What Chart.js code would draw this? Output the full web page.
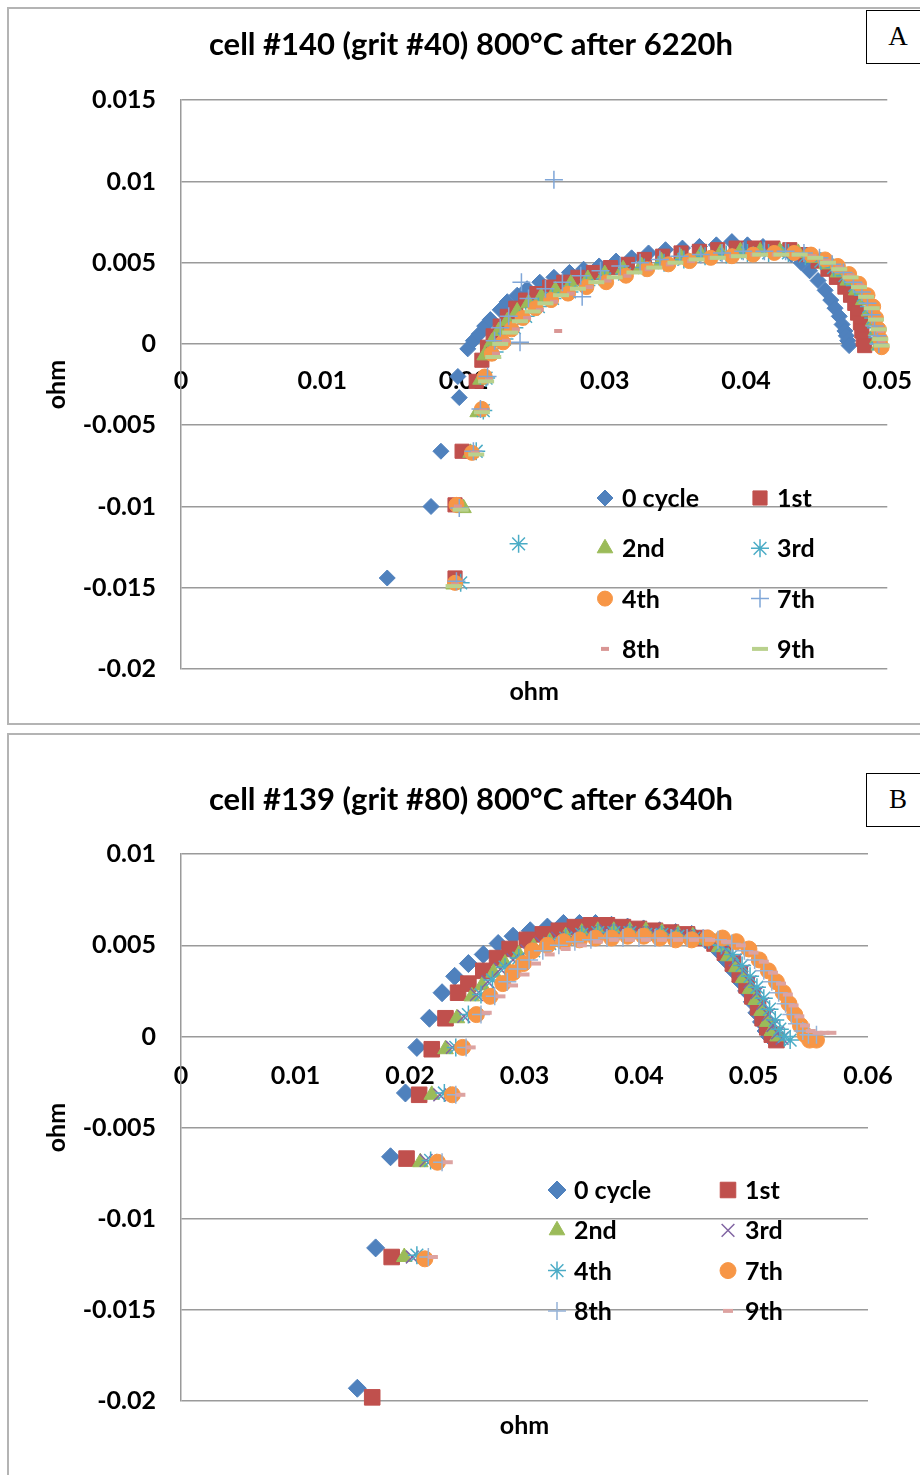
<!DOCTYPE html>
<html>
<head>
<meta charset="utf-8">
<script src="https://cdn.jsdelivr.net/npm/chart.js@4.4.1/dist/chart.umd.min.js"></script>
<style>
body { margin: 0; width: 920px; height: 1475px; overflow: hidden; background: #fff; position: relative; }
.frame { position: absolute; left: 7px; width: 960px; border: 2px solid #b4b4b4; box-sizing: border-box; }
.wrap { position: absolute; left: 8px; width: 926px; }
.tag { position: absolute; left: 866px; width: 80px; height: 54px; border: 1.5px solid #000; background: #fff; box-sizing: border-box; }
.tag span { position: absolute; left: 11px; width: 40px; top: 0; font: 27px "Liberation Serif", serif; line-height: 51px; text-align: center; color: #000; }
</style>
</head>
<body>
<div class="frame" style="top:7px;height:718px"></div>
<div class="frame" style="top:733px;height:800px"></div>
<div class="wrap" style="top:8px;height:715px"><canvas id="chartA"></canvas></div>
<div class="wrap" style="top:734px;height:741px"><canvas id="chartB"></canvas></div>
<div class="tag" style="top:10px"><span>A</span></div>
<div class="tag" style="top:773px"><span>B</span></div>
<script>
const cycleNames = ['0 cycle', '1st', '2nd', '3rd', '4th', '7th', '8th', '9th'];

// chart A: cell #140 (grit #40), points as [Z', Z''] in ohm
const a0 = [[0.0146,-0.0144],[0.0177,-0.0100],[0.0184,-0.0066],[0.0197,-0.0033],[0.0196,-0.0020],[0.0203,-0.0003],[0.0207,0.0002],[0.0211,0.0006],[0.0215,0.0011],[0.0219,0.0015],[0.0226,0.0021],[0.0231,0.0026],[0.0238,0.0030],[0.0245,0.0034],[0.0254,0.0038],[0.0264,0.0041],[0.0275,0.0044],[0.0285,0.0046],[0.0296,0.0048],[0.0308,0.0051],[0.0319,0.0053],[0.0331,0.0056],[0.0343,0.0058],[0.0355,0.0059],[0.0367,0.0060],[0.0379,0.0061],[0.0390,0.0063],[0.0401,0.0061],[0.0412,0.0060],[0.0423,0.0058],[0.0432,0.0055],[0.0439,0.0050],[0.0445,0.0045],[0.0451,0.0039],[0.0456,0.0033],[0.0460,0.0027],[0.0463,0.0022],[0.0466,0.0017],[0.0468,0.0012],[0.0470,0.0008],[0.0471,0.0005],[0.0472,0.0002],[0.0473,-0.0001]];
const a1 = [[0.0194,-0.0144],[0.0194,-0.0099],[0.0199,-0.0066],[0.0209,-0.0023],[0.0213,-0.0010],[0.0217,-0.0002],[0.0221,0.0005],[0.0226,0.0011],[0.0231,0.0017],[0.0237,0.0022],[0.0244,0.0027],[0.0252,0.0031],[0.0261,0.0035],[0.0271,0.0038],[0.0281,0.0041],[0.0292,0.0044],[0.0304,0.0047],[0.0316,0.0049],[0.0328,0.0052],[0.0341,0.0054],[0.0354,0.0056],[0.0367,0.0057],[0.0380,0.0058],[0.0393,0.0059],[0.0406,0.0059],[0.0419,0.0059],[0.0431,0.0058],[0.0442,0.0055],[0.0451,0.0051],[0.0458,0.0046],[0.0464,0.0041],[0.0470,0.0035],[0.0474,0.0030],[0.0477,0.0025],[0.0479,0.0019],[0.0481,0.0013],[0.0482,0.0008],[0.0483,0.0003],[0.0484,-0.0001]];
const a2 = [[0.0193,-0.0148],[0.0200,-0.0101],[0.0205,-0.0067],[0.0210,-0.0042],[0.0212,-0.0022],[0.0215,-0.0007],[0.0220,0.0001],[0.0225,0.0008],[0.0231,0.0014],[0.0238,0.0020],[0.0246,0.0025],[0.0255,0.0029],[0.0265,0.0033],[0.0276,0.0037],[0.0288,0.0040],[0.0300,0.0043],[0.0313,0.0046],[0.0326,0.0048],[0.0340,0.0051],[0.0354,0.0053],[0.0368,0.0055],[0.0382,0.0056],[0.0396,0.0057],[0.0410,0.0057],[0.0424,0.0057],[0.0437,0.0056],[0.0448,0.0053],[0.0457,0.0049],[0.0465,0.0044],[0.0472,0.0039],[0.0478,0.0033],[0.0483,0.0027],[0.0487,0.0020],[0.0490,0.0014],[0.0492,0.0008],[0.0493,0.0003],[0.0494,-0.0001]];
const a3 = [[0.0198,-0.0147],[0.0239,-0.0123],[0.0209,-0.0066],[0.0214,-0.0041],[0.0216,-0.0021],[0.0222,-0.0005],[0.0229,0.0003],[0.0236,0.0010],[0.0244,0.0017],[0.0253,0.0023],[0.0263,0.0028],[0.0275,0.0032],[0.0287,0.0036],[0.0300,0.0040],[0.0314,0.0043],[0.0328,0.0047],[0.0342,0.0050],[0.0356,0.0052],[0.0371,0.0054],[0.0386,0.0055],[0.0401,0.0056],[0.0416,0.0056],[0.0430,0.0056],[0.0442,0.0054],[0.0453,0.0051],[0.0462,0.0047],[0.0470,0.0042],[0.0477,0.0036],[0.0483,0.0030],[0.0487,0.0023],[0.0490,0.0016],[0.0492,0.0010],[0.0493,0.0004],[0.0494,0.0000]];
const a4 = [[0.0194,-0.0147],[0.0195,-0.0099],[0.0206,-0.0067],[0.0213,-0.0040],[0.0215,-0.0020],[0.0220,-0.0006],[0.0228,0.0001],[0.0234,0.0009],[0.0242,0.0016],[0.0251,0.0022],[0.0262,0.0027],[0.0274,0.0031],[0.0287,0.0035],[0.0301,0.0038],[0.0315,0.0042],[0.0330,0.0046],[0.0345,0.0049],[0.0360,0.0051],[0.0375,0.0053],[0.0390,0.0054],[0.0405,0.0055],[0.0420,0.0056],[0.0434,0.0056],[0.0446,0.0055],[0.0456,0.0052],[0.0465,0.0048],[0.0473,0.0043],[0.0480,0.0037],[0.0486,0.0030],[0.0490,0.0023],[0.0492,0.0016],[0.0494,0.0009],[0.0495,0.0003],[0.0496,-0.0002]];
const a7 = [[0.0195,-0.0146],[0.0197,-0.0101],[0.0207,-0.0066],[0.0212,-0.0040],[0.0217,-0.0020],[0.0240,0.0001],[0.0241,0.0038],[0.0264,0.0101],[0.0284,0.0029],[0.0222,0.0002],[0.0226,0.0010],[0.0232,0.0017],[0.0246,0.0028],[0.0258,0.0034],[0.0270,0.0038],[0.0283,0.0042],[0.0297,0.0045],[0.0311,0.0048],[0.0325,0.0050],[0.0339,0.0052],[0.0353,0.0054],[0.0368,0.0055],[0.0383,0.0056],[0.0398,0.0057],[0.0413,0.0057],[0.0428,0.0057],[0.0441,0.0056],[0.0452,0.0053],[0.0461,0.0049],[0.0469,0.0044],[0.0476,0.0038],[0.0482,0.0032],[0.0486,0.0025],[0.0489,0.0018],[0.0491,0.0011],[0.0493,0.0005],[0.0494,0.0000]];
const a8 = [[0.0194,-0.0148],[0.0196,-0.0100],[0.0208,-0.0067],[0.0214,-0.0041],[0.0218,-0.0022],[0.0267,0.0008],[0.0223,-0.0006],[0.0230,0.0002],[0.0237,0.0009],[0.0245,0.0016],[0.0254,0.0021],[0.0264,0.0026],[0.0276,0.0031],[0.0289,0.0035],[0.0302,0.0039],[0.0316,0.0042],[0.0331,0.0046],[0.0346,0.0049],[0.0361,0.0051],[0.0376,0.0053],[0.0391,0.0054],[0.0406,0.0055],[0.0421,0.0055],[0.0435,0.0055],[0.0447,0.0054],[0.0457,0.0051],[0.0466,0.0047],[0.0474,0.0042],[0.0481,0.0036],[0.0486,0.0029],[0.0490,0.0022],[0.0493,0.0015],[0.0495,0.0008],[0.0496,0.0002]];
const a9 = [[0.0193,-0.0149],[0.0198,-0.0102],[0.0209,-0.0068],[0.0213,-0.0042],[0.0216,-0.0023],[0.0221,-0.0008],[0.0226,0.0000],[0.0233,0.0007],[0.0240,0.0014],[0.0249,0.0020],[0.0258,0.0025],[0.0269,0.0030],[0.0281,0.0034],[0.0294,0.0038],[0.0307,0.0041],[0.0321,0.0044],[0.0335,0.0047],[0.0350,0.0050],[0.0365,0.0052],[0.0380,0.0053],[0.0395,0.0054],[0.0410,0.0055],[0.0425,0.0055],[0.0438,0.0055],[0.0449,0.0053],[0.0458,0.0050],[0.0466,0.0046],[0.0474,0.0041],[0.0480,0.0035],[0.0485,0.0029],[0.0489,0.0022],[0.0492,0.0015],[0.0494,0.0009],[0.0495,0.0003],[0.0496,-0.0001]];

// chart B: cell #139 (grit #80)
const b0 = [[0.0154,-0.0193],[0.0170,-0.0116],[0.0183,-0.0066],[0.0196,-0.0031],[0.0206,-0.0006],[0.0217,0.0010],[0.0228,0.0024],[0.0239,0.0033],[0.0251,0.0040],[0.0264,0.0045],[0.0277,0.0051],[0.0290,0.0055],[0.0305,0.0058],[0.0320,0.0060],[0.0334,0.0062],[0.0348,0.0062],[0.0362,0.0062],[0.0376,0.0061],[0.0390,0.0060],[0.0404,0.0059],[0.0418,0.0058],[0.0432,0.0057],[0.0446,0.0056],[0.0458,0.0053],[0.0468,0.0048],[0.0476,0.0042],[0.0483,0.0036],[0.0489,0.0030],[0.0494,0.0025],[0.0499,0.0019],[0.0503,0.0013],[0.0507,0.0008],[0.0511,0.0003],[0.0514,0.0000]];
const b1 = [[0.0167,-0.0198],[0.0184,-0.0121],[0.0197,-0.0067],[0.0208,-0.0032],[0.0219,-0.0007],[0.0231,0.0010],[0.0242,0.0024],[0.0251,0.0029],[0.0264,0.0036],[0.0276,0.0043],[0.0287,0.0048],[0.0302,0.0053],[0.0316,0.0056],[0.0330,0.0058],[0.0344,0.0060],[0.0358,0.0061],[0.0372,0.0061],[0.0386,0.0060],[0.0400,0.0059],[0.0414,0.0058],[0.0428,0.0057],[0.0442,0.0056],[0.0455,0.0054],[0.0466,0.0051],[0.0475,0.0046],[0.0482,0.0040],[0.0488,0.0034],[0.0494,0.0028],[0.0499,0.0022],[0.0504,0.0016],[0.0508,0.0010],[0.0512,0.0005],[0.0516,0.0001],[0.0520,-0.0002]];
const b2 = [[0.0195,-0.0121],[0.0209,-0.0069],[0.0219,-0.0032],[0.0231,-0.0007],[0.0241,0.0010],[0.0254,0.0022],[0.0263,0.0028],[0.0273,0.0035],[0.0283,0.0040],[0.0295,0.0045],[0.0308,0.0049],[0.0322,0.0052],[0.0336,0.0055],[0.0350,0.0057],[0.0364,0.0058],[0.0378,0.0058],[0.0392,0.0058],[0.0406,0.0058],[0.0420,0.0057],[0.0434,0.0056],[0.0447,0.0055],[0.0459,0.0053],[0.0470,0.0049],[0.0478,0.0044],[0.0485,0.0038],[0.0491,0.0032],[0.0497,0.0026],[0.0502,0.0020],[0.0507,0.0014],[0.0512,0.0008],[0.0516,0.0003],[0.0521,0.0000]];
const b3 = [[0.0202,-0.0121],[0.0214,-0.0068],[0.0226,-0.0032],[0.0237,-0.0006],[0.0247,0.0011],[0.0258,0.0023],[0.0268,0.0030],[0.0279,0.0037],[0.0290,0.0042],[0.0302,0.0047],[0.0315,0.0051],[0.0329,0.0054],[0.0343,0.0056],[0.0357,0.0057],[0.0371,0.0058],[0.0385,0.0058],[0.0399,0.0057],[0.0413,0.0057],[0.0427,0.0056],[0.0441,0.0055],[0.0454,0.0054],[0.0466,0.0052],[0.0476,0.0048],[0.0484,0.0042],[0.0491,0.0036],[0.0497,0.0030],[0.0503,0.0024],[0.0508,0.0018],[0.0513,0.0012],[0.0517,0.0006],[0.0521,0.0002],[0.0525,-0.0001]];
const b4 = [[0.0206,-0.0120],[0.0218,-0.0068],[0.0230,-0.0031],[0.0240,-0.0006],[0.0251,0.0012],[0.0262,0.0023],[0.0272,0.0031],[0.0283,0.0038],[0.0295,0.0043],[0.0308,0.0047],[0.0322,0.0051],[0.0336,0.0054],[0.0350,0.0056],[0.0364,0.0057],[0.0378,0.0057],[0.0392,0.0057],[0.0406,0.0056],[0.0420,0.0056],[0.0434,0.0055],[0.0448,0.0054],[0.0461,0.0053],[0.0472,0.0050],[0.0482,0.0045],[0.0490,0.0039],[0.0497,0.0033],[0.0503,0.0027],[0.0509,0.0021],[0.0514,0.0015],[0.0519,0.0009],[0.0523,0.0004],[0.0527,0.0000],[0.0532,-0.0002]];
const b7 = [[0.0213,-0.0122],[0.0224,-0.0069],[0.0237,-0.0032],[0.0246,-0.0006],[0.0258,0.0012],[0.0270,0.0022],[0.0281,0.0029],[0.0290,0.0035],[0.0299,0.0040],[0.0307,0.0047],[0.0320,0.0050],[0.0334,0.0052],[0.0348,0.0053],[0.0362,0.0054],[0.0376,0.0054],[0.0390,0.0055],[0.0404,0.0055],[0.0418,0.0054],[0.0432,0.0053],[0.0446,0.0053],[0.0460,0.0054],[0.0473,0.0054],[0.0485,0.0052],[0.0496,0.0048],[0.0505,0.0042],[0.0513,0.0036],[0.0520,0.0030],[0.0526,0.0024],[0.0531,0.0018],[0.0536,0.0012],[0.0541,0.0006],[0.0545,0.0001],[0.0549,-0.0002],[0.0555,-0.0002]];
const b8 = [[0.0216,-0.0121],[0.0228,-0.0069],[0.0240,-0.0032],[0.0249,-0.0006],[0.0262,0.0012],[0.0274,0.0022],[0.0285,0.0030],[0.0294,0.0037],[0.0304,0.0042],[0.0316,0.0047],[0.0330,0.0050],[0.0344,0.0052],[0.0358,0.0053],[0.0372,0.0054],[0.0386,0.0054],[0.0400,0.0054],[0.0414,0.0054],[0.0428,0.0054],[0.0442,0.0054],[0.0456,0.0054],[0.0469,0.0053],[0.0481,0.0051],[0.0492,0.0047],[0.0501,0.0042],[0.0509,0.0036],[0.0516,0.0030],[0.0522,0.0024],[0.0528,0.0018],[0.0533,0.0012],[0.0538,0.0007],[0.0543,0.0003],[0.0548,0.0001],[0.0555,0.0001]];
const b9 = [[0.0220,-0.0121],[0.0233,-0.0069],[0.0244,-0.0032],[0.0253,-0.0006],[0.0267,0.0013],[0.0279,0.0022],[0.0290,0.0028],[0.0300,0.0034],[0.0310,0.0040],[0.0322,0.0045],[0.0336,0.0048],[0.0350,0.0050],[0.0364,0.0052],[0.0378,0.0053],[0.0392,0.0053],[0.0406,0.0053],[0.0420,0.0053],[0.0434,0.0053],[0.0448,0.0053],[0.0462,0.0053],[0.0476,0.0052],[0.0489,0.0050],[0.0500,0.0046],[0.0509,0.0041],[0.0517,0.0035],[0.0524,0.0029],[0.0530,0.0023],[0.0535,0.0017],[0.0540,0.0011],[0.0545,0.0006],[0.0550,0.0003],[0.0556,0.0002],[0.0562,0.0002],[0.0568,0.0002]];

const xTicksA = [0, 0.01, 0.02, 0.03, 0.04, 0.05];
const yTicksA = [-0.02, -0.015, -0.01, -0.005, 0, 0.005, 0.01, 0.015];
const xTicksB = [0, 0.01, 0.02, 0.03, 0.04, 0.05, 0.06];
const yTicksB = [-0.02, -0.015, -0.01, -0.005, 0, 0.005, 0.01];

// marker look for each series, in legend order
const markersA = [
  {ps: 'rectRot', r: 8, c: '#4F81BD', bw: 1},
  {ps: 'rect', r: 10, c: '#C0504D', bw: 1},
  {ps: 'triangle', r: 9, c: '#9BBB59', bw: 1},
  {ps: 'star', r: 9, c: '#4BACC6', bw: 1.5},
  {ps: 'circle', r: 7.5, c: '#F79646', bw: 1},
  {ps: 'cross', r: 9, c: '#7FA6D8', bw: 1.5},
  {ps: 'line', r: 4, c: '#D99694', bw: 4},
  {ps: 'line', r: 8, c: '#B9D18D', bw: 4}
];
const markersB = [
  {ps: 'rectRot', r: 9, c: '#4F81BD', bw: 1},
  {ps: 'rect', r: 11, c: '#C0504D', bw: 1},
  {ps: 'triangle', r: 9, c: '#9BBB59', bw: 1},
  {ps: 'crossRot', r: 9, c: '#8064A2', bw: 1.5},
  {ps: 'star', r: 9, c: '#4BACC6', bw: 1.5},
  {ps: 'circle', r: 8, c: '#F79646', bw: 1},
  {ps: 'cross', r: 9, c: '#95B3D7', bw: 1.5},
  {ps: 'line', r: 5, c: '#DDA3A1', bw: 4}
];

const fontFamily = 'Lato, "Open Sans", sans-serif';

const gridLegend = {
  id: 'gridLegend',
  afterDatasetsDraw(chart, args, opts) {
    const ctx = chart.ctx;
    ctx.save();
    ctx.font = 'bold 25px ' + fontFamily;
    ctx.textBaseline = 'middle';
    chart.data.datasets.forEach((ds, i) => {
      const mx = opts.x + (i % 2) * opts.colW;
      const my = opts.y + Math.floor(i / 2) * opts.rowH;
      ctx.fillStyle = ds.backgroundColor;
      ctx.strokeStyle = ds.borderColor;
      ctx.lineWidth = ds.borderWidth;
      Chart.helpers.drawPoint(ctx, {pointStyle: ds.pointStyle, radius: ds.pointRadius, rotation: 0, borderWidth: ds.borderWidth}, mx, my);
      ctx.fillStyle = '#000';
      ctx.fillText(ds.label, mx + opts.gap, my + 1);
    });
    ctx.restore();
  }
};

function makeSets(series, markers) {
  return series.map((pts, i) => ({
    label: cycleNames[i],
    data: pts.map(p => ({x: p[0], y: p[1]})),
    pointStyle: markers[i].ps,
    pointRadius: markers[i].r,
    pointHoverRadius: markers[i].r,
    backgroundColor: markers[i].c,
    borderColor: markers[i].c,
    borderWidth: markers[i].bw,
    showLine: false,
    clip: false,
    order: series.length - i
  }));
}

const tickLabel = v => String(+Number(v).toFixed(4));

function makeChart(id, o) {
  return new Chart(document.getElementById(id), {
    type: 'scatter',
    data: {datasets: makeSets(o.series, o.markers)},
    plugins: [gridLegend],
    options: {
      responsive: true,
      maintainAspectRatio: false,
      animation: false,
      layout: {padding: 0},
      plugins: {
        legend: {display: false},
        tooltip: {enabled: false},
        title: {
          display: true,
          text: o.title,
          color: '#000',
          font: {family: fontFamily, size: 31, weight: 'bold'},
          padding: o.titlePad
        },
        gridLegend: o.legend
      },
      scales: {
        x: {
          type: 'linear',
          position: {y: 0},
          min: 0,
          max: o.xTicks[o.xTicks.length - 1],
          z: 1,
          afterBuildTicks: s => { s.ticks = o.xTicks.map(v => ({value: v})); },
          grid: {display: false, drawTicks: false},
          border: {display: false},
          ticks: {color: '#000', font: {family: fontFamily, size: 25, weight: 'bold'}, padding: o.xTickPad, maxRotation: 0, autoSkip: false, callback: tickLabel}
        },
        x2: {
          type: 'linear',
          axis: 'x',
          position: 'bottom',
          min: 0,
          max: o.xTicks[o.xTicks.length - 1],
          grid: {display: false, drawTicks: false},
          border: {display: false},
          ticks: {display: false},
          title: {display: true, text: 'ohm', color: '#000', font: {family: fontFamily, size: 25, weight: 'bold'}, padding: o.x2Pad}
        },
        y: {
          type: 'linear',
          position: 'left',
          min: o.yTicks[0],
          max: o.yTicks[o.yTicks.length - 1],
          afterBuildTicks: s => { s.ticks = o.yTicks.map(v => ({value: v})); },
          afterFit: s => { s.width = 173; },
          grid: {color: '#9a9a9a', lineWidth: 1.5, drawTicks: false},
          border: {display: true, color: '#9a9a9a', width: 1.5},
          ticks: {color: '#000', font: {family: fontFamily, size: 25, weight: 'bold'}, padding: 25, callback: tickLabel},
          title: {display: true, text: 'ohm', color: '#000', font: {family: fontFamily, size: 25, weight: 'bold'}, padding: {top: 34, bottom: 0}}
        },
        // empty right axis that only reserves the space right of the plot
        yRight: {
          type: 'linear',
          axis: 'y',
          position: 'right',
          min: o.yTicks[0],
          max: o.yTicks[o.yTicks.length - 1],
          afterFit: s => { s.width = o.padRight; },
          grid: {display: false, drawTicks: false},
          border: {display: false},
          ticks: {display: false}
        }
      }
    }
  });
}

makeChart('chartA', {
  series: [a0, a1, a2, a3, a4, a7, a8, a9],
  markers: markersA,
  title: 'cell #140 (grit #40) 800\u00B0C after 6220h',
  xTicks: xTicksA,
  yTicks: yTicksA,
  padRight: 46,
  titlePad: {top: 18, bottom: 37},
  x2Pad: {top: 8, bottom: 16},
  xTickPad: 22,
  legend: {x: 597, y: 490, colW: 155, rowH: 50.3, gap: 17}
});

makeChart('chartB', {
  series: [b0, b1, b2, b3, b4, b7, b8, b9],
  markers: markersB,
  title: 'cell #139 (grit #80) 800\u00B0C after 6340h',
  xTicks: xTicksB,
  yTicks: yTicksB,
  padRight: 66,
  titlePad: {top: 47, bottom: 36},
  x2Pad: {top: 10, bottom: 34},
  xTickPad: 24,
  legend: {x: 549, y: 456, colW: 171, rowH: 40.3, gap: 17}
});
</script>
</body>
</html>
